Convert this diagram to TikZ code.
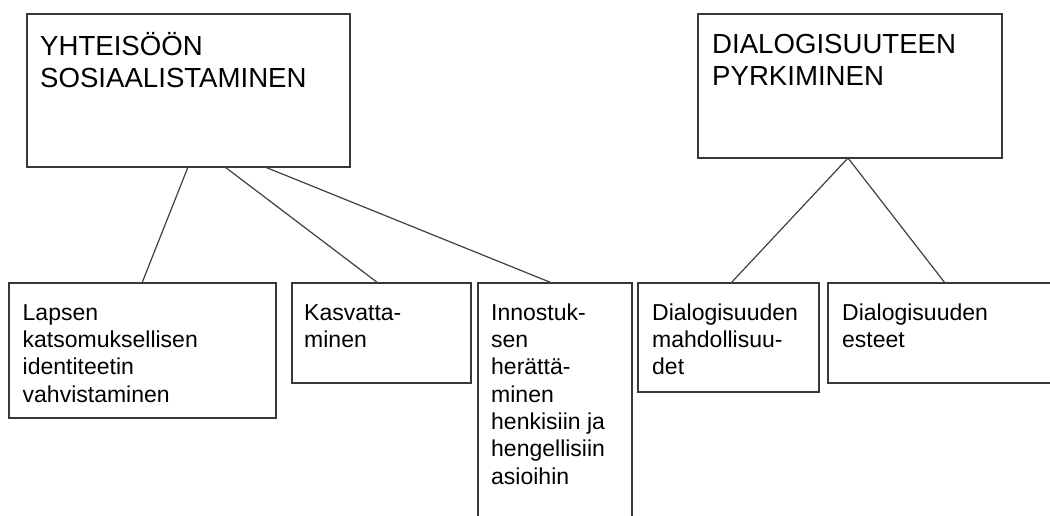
\documentclass[tikz,border=0pt]{standalone}
\usepackage{fontspec}
\setmainfont{Liberation Sans}
\begin{document}
\begin{tikzpicture}[x=1pt,y=-1pt,
  box/.style={draw=black!78,line width=1.2pt,fill=white,inner sep=0pt,outer sep=0pt,anchor=north west},
  headtext/.style={anchor=north west,inner sep=0pt,align=left,text=black,font=\fontsize{27.6}{32}\selectfont},
  itemtext/.style={anchor=north west,inner sep=0pt,align=left,text=black,font=\fontsize{23}{27.3}\selectfont},
  link/.style={draw=black!75,line width=1.2pt}]
\useasboundingbox (0,0) rectangle (1050,515);
\clip (0,0) rectangle (1050,515);
\fill[white] (0,0) rectangle (1050,515);

% top-level boxes
\node[box,minimum width=323pt,minimum height=153pt] (t1) at (27,14) {};
\node[box,minimum width=304pt,minimum height=144pt] (t2) at (698,14) {};

% second-level boxes
\node[box,minimum width=267pt,minimum height=135pt] (b1) at (9,283) {};
\node[box,minimum width=179pt,minimum height=100pt] (b2) at (292,283) {};
\node[box,minimum width=154pt,minimum height=250pt] (b3) at (478,283) {};
\node[box,minimum width=181pt,minimum height=109pt] (b4) at (638,283) {};
\node[box,minimum width=240pt,minimum height=100pt] (b5) at (828,283) {};

% labels
\node[headtext] (t1l) at ([xshift=13pt,yshift=-18.6pt]t1.north west) {\strut YHTEISÖÖN\\SOSIAALISTAMINEN};
\node[headtext] (t2l) at ([xshift=14pt,yshift=-16.6pt]t2.north west) {\strut DIALOGISUUTEEN\\PYRKIMINEN};
\node[itemtext] (b1l) at ([xshift=13.5pt,yshift=-17.9pt]b1.north west) {\strut Lapsen\\katsomuksellisen\\identiteetin\\vahvistaminen};
\node[itemtext] (b2l) at ([xshift=12pt,yshift=-17.9pt]b2.north west) {\strut Kasvatta-\\minen};
\node[itemtext] (b3l) at ([xshift=13pt,yshift=-17.9pt]b3.north west) {\strut Innostuk-\\sen\\herättä-\\minen\\henkisiin ja\\hengellisiin\\asioihin};
\node[itemtext] (b4l) at ([xshift=14pt,yshift=-17.9pt]b4.north west) {\strut Dialogisuuden\\mahdollisuu-\\det};
\node[itemtext] (b5l) at ([xshift=14pt,yshift=-17.9pt]b5.north west) {\strut Dialogisuuden\\esteet};

% connectors
\draw[link] ([xshift=161pt]t1.south west) -- ([xshift=133pt]b1.north west);
\draw[link] ([xshift=198pt]t1.south west) -- ([xshift=86pt]b2.north west);
\draw[link] ([xshift=238pt]t1.south west) -- ([xshift=74pt]b3.north west);
\draw[link] ([xshift=150pt]t2.south west) -- ([xshift=93pt]b4.north west);
\draw[link] ([xshift=150pt]t2.south west) -- ([xshift=117pt]b5.north west);
\end{tikzpicture}
\end{document}
